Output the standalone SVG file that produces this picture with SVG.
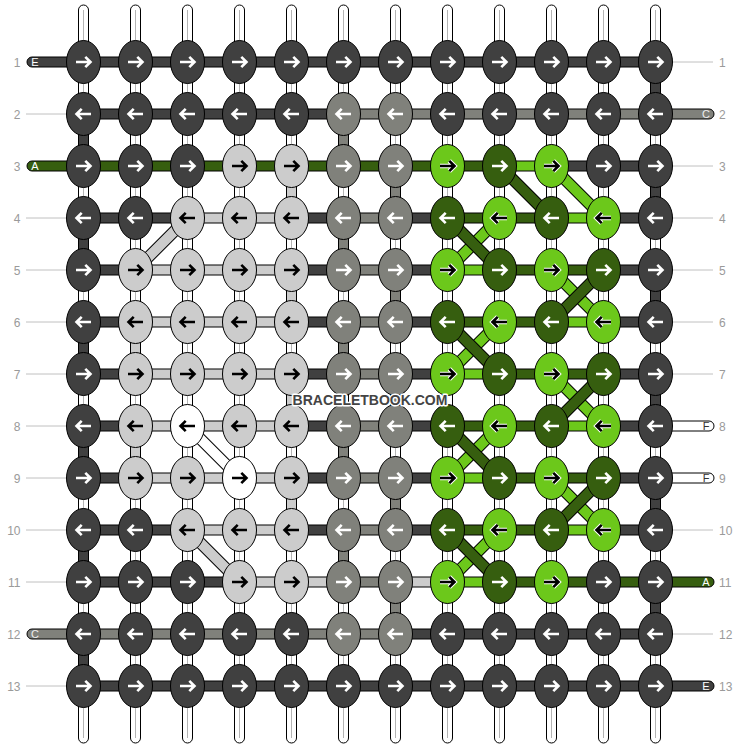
<svg xmlns="http://www.w3.org/2000/svg" xmlns:xlink="http://www.w3.org/1999/xlink" width="740" height="748" viewBox="0 0 740 748">
<style>
.vs{fill:#fff;stroke:#000;stroke-width:1}
.vl{stroke:#b4b4b4;stroke-width:1}
.s{stroke:#000;stroke-width:1}
.D{fill:#404040}.M{fill:#80817b}.L{fill:#cccccc}.W{fill:#ffffff}.G{fill:#365e0f}.g{fill:#6cc81b}
.do{stroke:#000;stroke-width:12}
.dD{stroke:#404040;stroke-width:10}.dL{stroke:#cccccc;stroke-width:10}.dW{stroke:#ffffff;stroke-width:10}.dG{stroke:#365e0f;stroke-width:10}.dg{stroke:#6cc81b;stroke-width:10}
.tl{stroke:#c0c0c0;stroke-width:1}
.num{font-family:"Liberation Sans",Arial,sans-serif;font-size:12px;fill:#9a9a9a}
.lab{font-family:"Liberation Sans",Arial,sans-serif;font-size:11px;text-anchor:middle}
.wm{font-family:"Liberation Sans",Arial,sans-serif;font-size:14px;font-weight:bold;fill:#444;stroke:#fff;stroke-width:3;stroke-linejoin:round;paint-order:stroke;text-anchor:middle}
</style>
<defs>
<path id="aR" d="M-7.5,0H6M1.8,-5.2L7,0L1.8,5.2" fill="none" stroke-linejoin="miter"/>
<path id="aL" d="M7.5,0H-6M-1.8,-5.2L-7,0L-1.8,5.2" fill="none" stroke-linejoin="miter"/>
<g id="kDR"><ellipse rx="17" ry="21.5" class="D s"/><use href="#aR" stroke="#fff" stroke-width="2.6"/></g>
<g id="kDL"><ellipse rx="17" ry="21.5" class="D s"/><use href="#aL" stroke="#fff" stroke-width="2.6"/></g>
<g id="kMR"><ellipse rx="17" ry="21.5" class="M s"/><use href="#aR" stroke="#fff" stroke-width="2.6"/></g>
<g id="kML"><ellipse rx="17" ry="21.5" class="M s"/><use href="#aL" stroke="#fff" stroke-width="2.6"/></g>
<g id="kGR"><ellipse rx="17" ry="21.5" class="G s"/><use href="#aR" stroke="#fff" stroke-width="2.6"/></g>
<g id="kGL"><ellipse rx="17" ry="21.5" class="G s"/><use href="#aL" stroke="#fff" stroke-width="2.6"/></g>
<g id="kLR"><ellipse rx="17" ry="21.5" class="L s"/><use href="#aR" stroke="#000" stroke-width="2.6"/></g>
<g id="kLL"><ellipse rx="17" ry="21.5" class="L s"/><use href="#aL" stroke="#000" stroke-width="2.6"/></g>
<g id="kWR"><ellipse rx="17" ry="21.5" class="W s"/><use href="#aR" stroke="#000" stroke-width="2.6"/></g>
<g id="kWL"><ellipse rx="17" ry="21.5" class="W s"/><use href="#aL" stroke="#000" stroke-width="2.6"/></g>
<g id="kgR"><ellipse rx="17" ry="21.5" class="g s"/><use href="#aR" stroke="#fff" stroke-width="4.6"/><use href="#aR" stroke="#000" stroke-width="2.6"/></g>
<g id="kgL"><ellipse rx="17" ry="21.5" class="g s"/><use href="#aL" stroke="#fff" stroke-width="4.6"/><use href="#aL" stroke="#000" stroke-width="2.6"/></g>
</defs>
<rect width="740" height="748" fill="#fff"/>

<g id="labels">
<text class="num" x="20.5" y="66.5" text-anchor="end">1</text>
<text class="num" x="20.5" y="118.5" text-anchor="end">2</text>
<text class="num" x="20.5" y="170.5" text-anchor="end">3</text>
<text class="num" x="20.5" y="222.5" text-anchor="end">4</text>
<text class="num" x="20.5" y="274.5" text-anchor="end">5</text>
<text class="num" x="20.5" y="326.5" text-anchor="end">6</text>
<text class="num" x="20.5" y="378.5" text-anchor="end">7</text>
<text class="num" x="20.5" y="430.5" text-anchor="end">8</text>
<text class="num" x="20.5" y="482.5" text-anchor="end">9</text>
<text class="num" x="20.5" y="534.5" text-anchor="end">10</text>
<text class="num" x="20.5" y="586.5" text-anchor="end">11</text>
<text class="num" x="20.5" y="638.5" text-anchor="end">12</text>
<text class="num" x="20.5" y="690.5" text-anchor="end">13</text>
<text class="num" x="719" y="66.5">1</text>
<text class="num" x="719" y="118.5">2</text>
<text class="num" x="719" y="170.5">3</text>
<text class="num" x="719" y="222.5">4</text>
<text class="num" x="719" y="274.5">5</text>
<text class="num" x="719" y="326.5">6</text>
<text class="num" x="719" y="378.5">7</text>
<text class="num" x="719" y="430.5">8</text>
<text class="num" x="719" y="482.5">9</text>
<text class="num" x="719" y="534.5">10</text>
<text class="num" x="719" y="586.5">11</text>
<text class="num" x="719" y="638.5">12</text>
<text class="num" x="719" y="690.5">13</text>
</g>

<g id="connectors">
<g id="thin-lines">
<line class="tl" x1="26" y1="114" x2="66" y2="114"/>
<line class="tl" x1="26" y1="218" x2="66" y2="218"/>
<line class="tl" x1="26" y1="270" x2="66" y2="270"/>
<line class="tl" x1="26" y1="322" x2="66" y2="322"/>
<line class="tl" x1="26" y1="374" x2="66" y2="374"/>
<line class="tl" x1="26" y1="426" x2="66" y2="426"/>
<line class="tl" x1="26" y1="478" x2="66" y2="478"/>
<line class="tl" x1="26" y1="530" x2="66" y2="530"/>
<line class="tl" x1="26" y1="582" x2="66" y2="582"/>
<line class="tl" x1="26" y1="686" x2="66" y2="686"/>
<line class="tl" x1="673" y1="62" x2="713" y2="62"/>
<line class="tl" x1="673" y1="166" x2="713" y2="166"/>
<line class="tl" x1="673" y1="218" x2="713" y2="218"/>
<line class="tl" x1="673" y1="270" x2="713" y2="270"/>
<line class="tl" x1="673" y1="322" x2="713" y2="322"/>
<line class="tl" x1="673" y1="374" x2="713" y2="374"/>
<line class="tl" x1="673" y1="530" x2="713" y2="530"/>
<line class="tl" x1="673" y1="634" x2="713" y2="634"/>
</g>
<g id="base-strands">
<rect class="vs" x="78.5" y="5" width="10" height="738" rx="5"/>
<rect class="vs" x="130.5" y="5" width="10" height="738" rx="5"/>
<rect class="vs" x="182.5" y="5" width="10" height="738" rx="5"/>
<rect class="vs" x="234.5" y="5" width="10" height="738" rx="5"/>
<rect class="vs" x="286.5" y="5" width="10" height="738" rx="5"/>
<rect class="vs" x="338.5" y="5" width="10" height="738" rx="5"/>
<rect class="vs" x="390.5" y="5" width="10" height="738" rx="5"/>
<rect class="vs" x="442.5" y="5" width="10" height="738" rx="5"/>
<rect class="vs" x="494.5" y="5" width="10" height="738" rx="5"/>
<rect class="vs" x="546.5" y="5" width="10" height="738" rx="5"/>
<rect class="vs" x="598.5" y="5" width="10" height="738" rx="5"/>
<rect class="vs" x="650.5" y="5" width="10" height="738" rx="5"/>
<line class="vl" x1="83.5" y1="10" x2="83.5" y2="738"/>
<line class="vl" x1="135.5" y1="10" x2="135.5" y2="738"/>
<line class="vl" x1="187.5" y1="10" x2="187.5" y2="738"/>
<line class="vl" x1="239.5" y1="10" x2="239.5" y2="738"/>
<line class="vl" x1="291.5" y1="10" x2="291.5" y2="738"/>
<line class="vl" x1="343.5" y1="10" x2="343.5" y2="738"/>
<line class="vl" x1="395.5" y1="10" x2="395.5" y2="738"/>
<line class="vl" x1="447.5" y1="10" x2="447.5" y2="738"/>
<line class="vl" x1="499.5" y1="10" x2="499.5" y2="738"/>
<line class="vl" x1="551.5" y1="10" x2="551.5" y2="738"/>
<line class="vl" x1="603.5" y1="10" x2="603.5" y2="738"/>
<line class="vl" x1="655.5" y1="10" x2="655.5" y2="738"/>
</g>
<g id="vertical-segments">
<rect class="s D" x="78.5" y="129" width="10" height="22"/>
<rect class="s D" x="78.5" y="233" width="10" height="22"/>
<rect class="s D" x="78.5" y="337" width="10" height="22"/>
<rect class="s D" x="78.5" y="441" width="10" height="22"/>
<rect class="s D" x="78.5" y="545" width="10" height="22"/>
<rect class="s D" x="78.5" y="649" width="10" height="22"/>
<rect class="s D" x="650.5" y="77" width="10" height="22"/>
<rect class="s D" x="650.5" y="181" width="10" height="22"/>
<rect class="s D" x="650.5" y="285" width="10" height="22"/>
<rect class="s D" x="650.5" y="389" width="10" height="22"/>
<rect class="s D" x="650.5" y="493" width="10" height="22"/>
<rect class="s D" x="650.5" y="597" width="10" height="22"/>
<rect class="s L" x="130.5" y="337" width="10" height="22"/>
<rect class="s L" x="130.5" y="441" width="10" height="22"/>
<rect class="s L" x="286.5" y="181" width="10" height="22"/>
<rect class="s L" x="286.5" y="285" width="10" height="22"/>
<rect class="s L" x="286.5" y="389" width="10" height="22"/>
<rect class="s L" x="286.5" y="493" width="10" height="22"/>
<rect class="s M" x="338.5" y="129" width="10" height="22"/>
<rect class="s M" x="338.5" y="233" width="10" height="22"/>
<rect class="s M" x="338.5" y="337" width="10" height="22"/>
<rect class="s M" x="338.5" y="441" width="10" height="22"/>
<rect class="s M" x="338.5" y="545" width="10" height="22"/>
<rect class="s M" x="390.5" y="181" width="10" height="22"/>
<rect class="s M" x="390.5" y="285" width="10" height="22"/>
<rect class="s M" x="390.5" y="389" width="10" height="22"/>
<rect class="s M" x="390.5" y="493" width="10" height="22"/>
<rect class="s M" x="390.5" y="597" width="10" height="22"/>
</g>
<g id="row-strands">
<!-- row 1 -->
<rect class="s D" x="27" y="57" width="628.5" height="10" rx="5"/>
<!-- row 2 -->
<rect class="s D" x="83.5" y="109" width="260" height="10"/>
<rect class="s M" x="343.5" y="109" width="370.5" height="10" rx="5"/>
<!-- row 3 -->
<rect class="s G" x="27" y="161" width="472.5" height="10" rx="5"/>
<rect class="s g" x="499.5" y="161" width="52" height="10"/>
<rect class="s D" x="551.5" y="161" width="104" height="10"/>
<!-- row 4 -->
<rect class="s D" x="83.5" y="213" width="104" height="10"/>
<rect class="s L" x="187.5" y="213" width="104" height="10"/>
<rect class="s D" x="291.5" y="213" width="52" height="10"/>
<rect class="s M" x="343.5" y="213" width="52" height="10"/>
<rect class="s D" x="395.5" y="213" width="52" height="10"/>
<rect class="s G" x="447.5" y="213" width="104" height="10"/>
<rect class="s g" x="551.5" y="213" width="52" height="10"/>
<rect class="s D" x="603.5" y="213" width="52" height="10"/>
<!-- row 5 -->
<rect class="s D" x="83.5" y="265" width="52" height="10"/>
<rect class="s L" x="135.5" y="265" width="156" height="10"/>
<rect class="s D" x="291.5" y="265" width="52" height="10"/>
<rect class="s M" x="343.5" y="265" width="52" height="10"/>
<rect class="s D" x="395.5" y="265" width="52" height="10"/>
<rect class="s g" x="447.5" y="265" width="52" height="10"/>
<rect class="s G" x="499.5" y="265" width="104" height="10"/>
<rect class="s D" x="603.5" y="265" width="52" height="10"/>
<!-- row 6 -->
<rect class="s D" x="83.5" y="317" width="52" height="10"/>
<rect class="s L" x="135.5" y="317" width="156" height="10"/>
<rect class="s D" x="291.5" y="317" width="52" height="10"/>
<rect class="s M" x="343.5" y="317" width="52" height="10"/>
<rect class="s D" x="395.5" y="317" width="52" height="10"/>
<rect class="s G" x="447.5" y="317" width="104" height="10"/>
<rect class="s g" x="551.5" y="317" width="52" height="10"/>
<rect class="s D" x="603.5" y="317" width="52" height="10"/>
<!-- row 7 -->
<rect class="s D" x="83.5" y="369" width="52" height="10"/>
<rect class="s L" x="135.5" y="369" width="156" height="10"/>
<rect class="s D" x="291.5" y="369" width="52" height="10"/>
<rect class="s M" x="343.5" y="369" width="52" height="10"/>
<rect class="s D" x="395.5" y="369" width="52" height="10"/>
<rect class="s g" x="447.5" y="369" width="52" height="10"/>
<rect class="s G" x="499.5" y="369" width="104" height="10"/>
<rect class="s D" x="603.5" y="369" width="52" height="10"/>
<!-- row 8 -->
<rect class="s D" x="83.5" y="421" width="52" height="10"/>
<rect class="s L" x="135.5" y="421" width="156" height="10"/>
<rect class="s D" x="291.5" y="421" width="52" height="10"/>
<rect class="s M" x="343.5" y="421" width="52" height="10"/>
<rect class="s D" x="395.5" y="421" width="52" height="10"/>
<rect class="s G" x="447.5" y="421" width="104" height="10"/>
<rect class="s g" x="551.5" y="421" width="52" height="10"/>
<rect class="s W" x="650" y="421" width="64" height="10" rx="5"/>
<rect class="s D" x="603.5" y="421" width="52" height="10"/>
<!-- row 9 -->
<rect class="s D" x="83.5" y="473" width="52" height="10"/>
<rect class="s L" x="135.5" y="473" width="156" height="10"/>
<rect class="s D" x="291.5" y="473" width="52" height="10"/>
<rect class="s M" x="343.5" y="473" width="52" height="10"/>
<rect class="s D" x="395.5" y="473" width="52" height="10"/>
<rect class="s g" x="447.5" y="473" width="52" height="10"/>
<rect class="s G" x="499.5" y="473" width="104" height="10"/>
<rect class="s W" x="650" y="473" width="64" height="10" rx="5"/>
<rect class="s D" x="603.5" y="473" width="52" height="10"/>
<!-- row 10 -->
<rect class="s D" x="83.5" y="525" width="104" height="10"/>
<rect class="s L" x="187.5" y="525" width="104" height="10"/>
<rect class="s D" x="291.5" y="525" width="52" height="10"/>
<rect class="s M" x="343.5" y="525" width="52" height="10"/>
<rect class="s D" x="395.5" y="525" width="52" height="10"/>
<rect class="s G" x="447.5" y="525" width="104" height="10"/>
<rect class="s g" x="551.5" y="525" width="52" height="10"/>
<rect class="s D" x="603.5" y="525" width="52" height="10"/>
<!-- row 11 -->
<rect class="s D" x="83.5" y="577" width="156" height="10"/>
<rect class="s L" x="239.5" y="577" width="104" height="10"/>
<rect class="s M" x="343.5" y="577" width="52" height="10"/>
<rect class="s L" x="395.5" y="577" width="52" height="10"/>
<rect class="s g" x="447.5" y="577" width="52" height="10"/>
<rect class="s G" x="499.5" y="577" width="214.5" height="10" rx="5"/>
<!-- row 12 -->
<rect class="s M" x="27" y="629" width="368.5" height="10" rx="5"/>
<rect class="s D" x="395.5" y="629" width="260" height="10"/>
<!-- row 13 -->
<rect class="s D" x="83.5" y="681" width="630.5" height="10" rx="5"/>
</g>
<g id="diagonals">
<line class="do" x1="187.5" y1="218" x2="135.5" y2="270"/><line class="dL" x1="187.5" y1="218" x2="135.5" y2="270"/>
<line class="do" x1="187.5" y1="426" x2="239.5" y2="478"/><line class="dW" x1="187.5" y1="426" x2="239.5" y2="478"/>
<line class="do" x1="187.5" y1="530" x2="239.5" y2="582"/><line class="dL" x1="187.5" y1="530" x2="239.5" y2="582"/>
<line class="do" x1="499.5" y1="166" x2="551.5" y2="218"/><line class="dG" x1="499.5" y1="166" x2="551.5" y2="218"/>
<line class="do" x1="551.5" y1="166" x2="603.5" y2="218"/><line class="dg" x1="551.5" y1="166" x2="603.5" y2="218"/>
<line class="do" x1="499.5" y1="218" x2="447.5" y2="270"/><line class="dg" x1="499.5" y1="218" x2="447.5" y2="270"/>
<line class="do" x1="447.5" y1="218" x2="499.5" y2="270"/><line class="dG" x1="447.5" y1="218" x2="499.5" y2="270"/>
<line class="do" x1="551.5" y1="270" x2="603.5" y2="322"/><line class="dg" x1="551.5" y1="270" x2="603.5" y2="322"/>
<line class="do" x1="603.5" y1="270" x2="551.5" y2="322"/><line class="dG" x1="603.5" y1="270" x2="551.5" y2="322"/>
<line class="do" x1="499.5" y1="322" x2="447.5" y2="374"/><line class="dg" x1="499.5" y1="322" x2="447.5" y2="374"/>
<line class="do" x1="447.5" y1="322" x2="499.5" y2="374"/><line class="dG" x1="447.5" y1="322" x2="499.5" y2="374"/>
<line class="do" x1="551.5" y1="374" x2="603.5" y2="426"/><line class="dg" x1="551.5" y1="374" x2="603.5" y2="426"/>
<line class="do" x1="603.5" y1="374" x2="551.5" y2="426"/><line class="dG" x1="603.5" y1="374" x2="551.5" y2="426"/>
<line class="do" x1="499.5" y1="426" x2="447.5" y2="478"/><line class="dg" x1="499.5" y1="426" x2="447.5" y2="478"/>
<line class="do" x1="447.5" y1="426" x2="499.5" y2="478"/><line class="dG" x1="447.5" y1="426" x2="499.5" y2="478"/>
<line class="do" x1="551.5" y1="478" x2="603.5" y2="530"/><line class="dg" x1="551.5" y1="478" x2="603.5" y2="530"/>
<line class="do" x1="603.5" y1="478" x2="551.5" y2="530"/><line class="dG" x1="603.5" y1="478" x2="551.5" y2="530"/>
<line class="do" x1="499.5" y1="530" x2="447.5" y2="582"/><line class="dg" x1="499.5" y1="530" x2="447.5" y2="582"/>
<line class="do" x1="447.5" y1="530" x2="499.5" y2="582"/><line class="dG" x1="447.5" y1="530" x2="499.5" y2="582"/>
</g>
<g id="end-labels">
<text class="lab" x="35" y="66" fill="#fff">E</text>
<text class="lab" x="35" y="170" fill="#fff">A</text>
<text class="lab" x="35" y="638" fill="#eee">C</text>
<text class="lab" x="706" y="118" fill="#eee">C</text>
<text class="lab" x="706" y="430" fill="#333">F</text>
<text class="lab" x="706" y="482" fill="#333">F</text>
<text class="lab" x="706" y="586" fill="#fff">A</text>
<text class="lab" x="706" y="690" fill="#fff">E</text>
</g>
</g>

<g id="knots">
<g id="n1-1"><use href="#kDR" x="83.5" y="62"/></g>
<g id="n1-2"><use href="#kDR" x="135.5" y="62"/></g>
<g id="n1-3"><use href="#kDR" x="187.5" y="62"/></g>
<g id="n1-4"><use href="#kDR" x="239.5" y="62"/></g>
<g id="n1-5"><use href="#kDR" x="291.5" y="62"/></g>
<g id="n1-6"><use href="#kDR" x="343.5" y="62"/></g>
<g id="n1-7"><use href="#kDR" x="395.5" y="62"/></g>
<g id="n1-8"><use href="#kDR" x="447.5" y="62"/></g>
<g id="n1-9"><use href="#kDR" x="499.5" y="62"/></g>
<g id="n1-10"><use href="#kDR" x="551.5" y="62"/></g>
<g id="n1-11"><use href="#kDR" x="603.5" y="62"/></g>
<g id="n1-12"><use href="#kDR" x="655.5" y="62"/></g>

<g id="n2-1"><use href="#kDL" x="83.5" y="114"/></g>
<g id="n2-2"><use href="#kDL" x="135.5" y="114"/></g>
<g id="n2-3"><use href="#kDL" x="187.5" y="114"/></g>
<g id="n2-4"><use href="#kDL" x="239.5" y="114"/></g>
<g id="n2-5"><use href="#kDL" x="291.5" y="114"/></g>
<g id="n2-6"><use href="#kML" x="343.5" y="114"/></g>
<g id="n2-7"><use href="#kML" x="395.5" y="114"/></g>
<g id="n2-8"><use href="#kDL" x="447.5" y="114"/></g>
<g id="n2-9"><use href="#kDL" x="499.5" y="114"/></g>
<g id="n2-10"><use href="#kDL" x="551.5" y="114"/></g>
<g id="n2-11"><use href="#kDL" x="603.5" y="114"/></g>
<g id="n2-12"><use href="#kDL" x="655.5" y="114"/></g>

<g id="n3-1"><use href="#kDR" x="83.5" y="166"/></g>
<g id="n3-2"><use href="#kDR" x="135.5" y="166"/></g>
<g id="n3-3"><use href="#kDR" x="187.5" y="166"/></g>
<g id="n3-4"><use href="#kLR" x="239.5" y="166"/></g>
<g id="n3-5"><use href="#kLR" x="291.5" y="166"/></g>
<g id="n3-6"><use href="#kMR" x="343.5" y="166"/></g>
<g id="n3-7"><use href="#kMR" x="395.5" y="166"/></g>
<g id="n3-8"><use href="#kgR" x="447.5" y="166"/></g>
<g id="n3-9"><use href="#kGR" x="499.5" y="166"/></g>
<g id="n3-10"><use href="#kgR" x="551.5" y="166"/></g>
<g id="n3-11"><use href="#kDR" x="603.5" y="166"/></g>
<g id="n3-12"><use href="#kDR" x="655.5" y="166"/></g>

<g id="n4-1"><use href="#kDL" x="83.5" y="218"/></g>
<g id="n4-2"><use href="#kDL" x="135.5" y="218"/></g>
<g id="n4-3"><use href="#kLL" x="187.5" y="218"/></g>
<g id="n4-4"><use href="#kLL" x="239.5" y="218"/></g>
<g id="n4-5"><use href="#kLL" x="291.5" y="218"/></g>
<g id="n4-6"><use href="#kML" x="343.5" y="218"/></g>
<g id="n4-7"><use href="#kML" x="395.5" y="218"/></g>
<g id="n4-8"><use href="#kGL" x="447.5" y="218"/></g>
<g id="n4-9"><use href="#kgL" x="499.5" y="218"/></g>
<g id="n4-10"><use href="#kGL" x="551.5" y="218"/></g>
<g id="n4-11"><use href="#kgL" x="603.5" y="218"/></g>
<g id="n4-12"><use href="#kDL" x="655.5" y="218"/></g>

<g id="n5-1"><use href="#kDR" x="83.5" y="270"/></g>
<g id="n5-2"><use href="#kLR" x="135.5" y="270"/></g>
<g id="n5-3"><use href="#kLR" x="187.5" y="270"/></g>
<g id="n5-4"><use href="#kLR" x="239.5" y="270"/></g>
<g id="n5-5"><use href="#kLR" x="291.5" y="270"/></g>
<g id="n5-6"><use href="#kMR" x="343.5" y="270"/></g>
<g id="n5-7"><use href="#kMR" x="395.5" y="270"/></g>
<g id="n5-8"><use href="#kgR" x="447.5" y="270"/></g>
<g id="n5-9"><use href="#kGR" x="499.5" y="270"/></g>
<g id="n5-10"><use href="#kgR" x="551.5" y="270"/></g>
<g id="n5-11"><use href="#kGR" x="603.5" y="270"/></g>
<g id="n5-12"><use href="#kDR" x="655.5" y="270"/></g>

<g id="n6-1"><use href="#kDL" x="83.5" y="322"/></g>
<g id="n6-2"><use href="#kLL" x="135.5" y="322"/></g>
<g id="n6-3"><use href="#kLL" x="187.5" y="322"/></g>
<g id="n6-4"><use href="#kLL" x="239.5" y="322"/></g>
<g id="n6-5"><use href="#kLL" x="291.5" y="322"/></g>
<g id="n6-6"><use href="#kML" x="343.5" y="322"/></g>
<g id="n6-7"><use href="#kML" x="395.5" y="322"/></g>
<g id="n6-8"><use href="#kGL" x="447.5" y="322"/></g>
<g id="n6-9"><use href="#kgL" x="499.5" y="322"/></g>
<g id="n6-10"><use href="#kGL" x="551.5" y="322"/></g>
<g id="n6-11"><use href="#kgL" x="603.5" y="322"/></g>
<g id="n6-12"><use href="#kDL" x="655.5" y="322"/></g>

<g id="n7-1"><use href="#kDR" x="83.5" y="374"/></g>
<g id="n7-2"><use href="#kLR" x="135.5" y="374"/></g>
<g id="n7-3"><use href="#kLR" x="187.5" y="374"/></g>
<g id="n7-4"><use href="#kLR" x="239.5" y="374"/></g>
<g id="n7-5"><use href="#kLR" x="291.5" y="374"/></g>
<g id="n7-6"><use href="#kMR" x="343.5" y="374"/></g>
<g id="n7-7"><use href="#kMR" x="395.5" y="374"/></g>
<g id="n7-8"><use href="#kgR" x="447.5" y="374"/></g>
<g id="n7-9"><use href="#kGR" x="499.5" y="374"/></g>
<g id="n7-10"><use href="#kgR" x="551.5" y="374"/></g>
<g id="n7-11"><use href="#kGR" x="603.5" y="374"/></g>
<g id="n7-12"><use href="#kDR" x="655.5" y="374"/></g>

<g id="n8-1"><use href="#kDL" x="83.5" y="426"/></g>
<g id="n8-2"><use href="#kLL" x="135.5" y="426"/></g>
<g id="n8-3"><use href="#kWL" x="187.5" y="426"/></g>
<g id="n8-4"><use href="#kLL" x="239.5" y="426"/></g>
<g id="n8-5"><use href="#kLL" x="291.5" y="426"/></g>
<g id="n8-6"><use href="#kML" x="343.5" y="426"/></g>
<g id="n8-7"><use href="#kML" x="395.5" y="426"/></g>
<g id="n8-8"><use href="#kGL" x="447.5" y="426"/></g>
<g id="n8-9"><use href="#kgL" x="499.5" y="426"/></g>
<g id="n8-10"><use href="#kGL" x="551.5" y="426"/></g>
<g id="n8-11"><use href="#kgL" x="603.5" y="426"/></g>
<g id="n8-12"><use href="#kDL" x="655.5" y="426"/></g>

<g id="n9-1"><use href="#kDR" x="83.5" y="478"/></g>
<g id="n9-2"><use href="#kLR" x="135.5" y="478"/></g>
<g id="n9-3"><use href="#kLR" x="187.5" y="478"/></g>
<g id="n9-4"><use href="#kWR" x="239.5" y="478"/></g>
<g id="n9-5"><use href="#kLR" x="291.5" y="478"/></g>
<g id="n9-6"><use href="#kMR" x="343.5" y="478"/></g>
<g id="n9-7"><use href="#kMR" x="395.5" y="478"/></g>
<g id="n9-8"><use href="#kgR" x="447.5" y="478"/></g>
<g id="n9-9"><use href="#kGR" x="499.5" y="478"/></g>
<g id="n9-10"><use href="#kgR" x="551.5" y="478"/></g>
<g id="n9-11"><use href="#kGR" x="603.5" y="478"/></g>
<g id="n9-12"><use href="#kDR" x="655.5" y="478"/></g>

<g id="n10-1"><use href="#kDL" x="83.5" y="530"/></g>
<g id="n10-2"><use href="#kDL" x="135.5" y="530"/></g>
<g id="n10-3"><use href="#kLL" x="187.5" y="530"/></g>
<g id="n10-4"><use href="#kLL" x="239.5" y="530"/></g>
<g id="n10-5"><use href="#kLL" x="291.5" y="530"/></g>
<g id="n10-6"><use href="#kML" x="343.5" y="530"/></g>
<g id="n10-7"><use href="#kML" x="395.5" y="530"/></g>
<g id="n10-8"><use href="#kGL" x="447.5" y="530"/></g>
<g id="n10-9"><use href="#kgL" x="499.5" y="530"/></g>
<g id="n10-10"><use href="#kGL" x="551.5" y="530"/></g>
<g id="n10-11"><use href="#kgL" x="603.5" y="530"/></g>
<g id="n10-12"><use href="#kDL" x="655.5" y="530"/></g>

<g id="n11-1"><use href="#kDR" x="83.5" y="582"/></g>
<g id="n11-2"><use href="#kDR" x="135.5" y="582"/></g>
<g id="n11-3"><use href="#kDR" x="187.5" y="582"/></g>
<g id="n11-4"><use href="#kLR" x="239.5" y="582"/></g>
<g id="n11-5"><use href="#kLR" x="291.5" y="582"/></g>
<g id="n11-6"><use href="#kMR" x="343.5" y="582"/></g>
<g id="n11-7"><use href="#kMR" x="395.5" y="582"/></g>
<g id="n11-8"><use href="#kgR" x="447.5" y="582"/></g>
<g id="n11-9"><use href="#kGR" x="499.5" y="582"/></g>
<g id="n11-10"><use href="#kgR" x="551.5" y="582"/></g>
<g id="n11-11"><use href="#kDR" x="603.5" y="582"/></g>
<g id="n11-12"><use href="#kDR" x="655.5" y="582"/></g>

<g id="n12-1"><use href="#kDL" x="83.5" y="634"/></g>
<g id="n12-2"><use href="#kDL" x="135.5" y="634"/></g>
<g id="n12-3"><use href="#kDL" x="187.5" y="634"/></g>
<g id="n12-4"><use href="#kDL" x="239.5" y="634"/></g>
<g id="n12-5"><use href="#kDL" x="291.5" y="634"/></g>
<g id="n12-6"><use href="#kML" x="343.5" y="634"/></g>
<g id="n12-7"><use href="#kML" x="395.5" y="634"/></g>
<g id="n12-8"><use href="#kDL" x="447.5" y="634"/></g>
<g id="n12-9"><use href="#kDL" x="499.5" y="634"/></g>
<g id="n12-10"><use href="#kDL" x="551.5" y="634"/></g>
<g id="n12-11"><use href="#kDL" x="603.5" y="634"/></g>
<g id="n12-12"><use href="#kDL" x="655.5" y="634"/></g>

<g id="n13-1"><use href="#kDR" x="83.5" y="686"/></g>
<g id="n13-2"><use href="#kDR" x="135.5" y="686"/></g>
<g id="n13-3"><use href="#kDR" x="187.5" y="686"/></g>
<g id="n13-4"><use href="#kDR" x="239.5" y="686"/></g>
<g id="n13-5"><use href="#kDR" x="291.5" y="686"/></g>
<g id="n13-6"><use href="#kDR" x="343.5" y="686"/></g>
<g id="n13-7"><use href="#kDR" x="395.5" y="686"/></g>
<g id="n13-8"><use href="#kDR" x="447.5" y="686"/></g>
<g id="n13-9"><use href="#kDR" x="499.5" y="686"/></g>
<g id="n13-10"><use href="#kDR" x="551.5" y="686"/></g>
<g id="n13-11"><use href="#kDR" x="603.5" y="686"/></g>
<g id="n13-12"><use href="#kDR" x="655.5" y="686"/></g>
</g>

<text class="wm" x="370" y="405">BRACELETBOOK.COM</text>
</svg>
